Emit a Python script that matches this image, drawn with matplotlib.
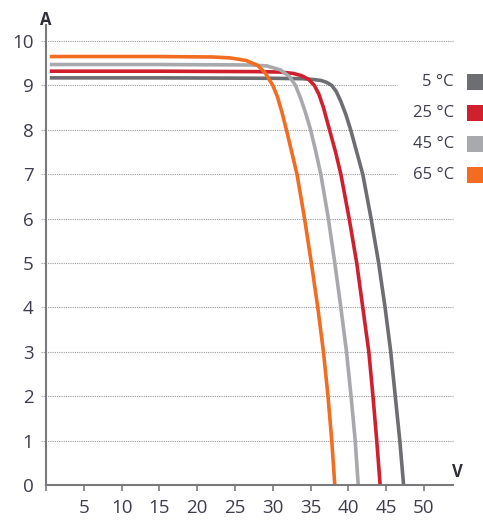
import matplotlib
matplotlib.use("Agg")
import matplotlib.pyplot as plt
from matplotlib.patches import Rectangle

plt.rcParams['font.family'] = ['Open Sans', 'DejaVu Sans']

# ---- data ----
labels = ["5 °C", "25 °C", "45 °C", "65 °C"]
colors = ["#6d6e71", "#d0202e", "#a7a9ac", "#f26c22"]

v_5 = [0.5, 15, 30, 34, 35.5, 36.4, 37.1, 37.8, 38.4, 39.0, 39.65, 40.3, 41.1, 41.9, 43.0, 44.0, 44.85, 45.6, 46.2, 46.8, 47.3]
i_5 = [9.17, 9.17, 9.16, 9.15, 9.13, 9.11, 9.07, 9.00, 8.86, 8.64, 8.35, 8.00, 7.50, 7.00, 6.00, 5.00, 4.00, 3.00, 2.00, 1.00, 0.00]

v_25 = [0.5, 15, 28, 31.0, 32.7, 33.8, 34.7, 35.5, 36.1, 36.7, 37.5, 38.3, 39.0, 40.1, 41.1, 41.9, 42.7, 43.25, 43.75, 44.2]
i_25 = [9.32, 9.32, 9.31, 9.30, 9.27, 9.22, 9.14, 9.00, 8.80, 8.50, 8.00, 7.50, 7.00, 6.00, 5.00, 4.00, 3.00, 2.00, 1.00, 0.00]

v_45 = [0.5, 15, 27, 29.2, 31.0, 32.2, 33.0, 33.7, 34.3, 35.0, 35.7, 36.35, 37.35, 38.2, 39.0, 39.75, 40.35, 40.9, 41.3]
i_45 = [9.47, 9.47, 9.46, 9.44, 9.35, 9.20, 9.00, 8.70, 8.40, 8.00, 7.50, 7.00, 6.00, 5.00, 4.00, 3.00, 2.00, 1.00, 0.00]

v_65 = [0.5, 15, 22, 24.3, 26.5, 28.0, 29.0, 30.0, 30.6, 31.2, 31.8, 32.5, 33.2, 34.2, 35.1, 35.95, 36.7, 37.3, 37.8, 38.2]
i_65 = [9.65, 9.65, 9.64, 9.62, 9.56, 9.45, 9.28, 9.00, 8.75, 8.40, 8.00, 7.50, 7.00, 6.00, 5.00, 4.00, 3.00, 2.00, 1.00, 0.00]

x_ticks = [5, 10, 15, 20, 25, 30, 35, 40, 45, 50]
y_ticks = [0, 1, 2, 3, 4, 5, 6, 7, 8, 9, 10]
short_grid = [7, 8, 9]

W, H = 483, 523
fig = plt.figure(figsize=(W / 100, H / 100), dpi=100)
ax_l, ax_r, ax_b, ax_t = 46, 453, 485, 25
ax = fig.add_axes([ax_l / W, 1 - ax_b / H, (ax_r - ax_l) / W, (ax_b - ax_t) / H])
XMAX = (ax_r - ax_l) / 7.56
YMAX = (ax_b - ax_t) / 44.4
ax.set_xlim(0, XMAX)
ax.set_ylim(0, YMAX)

txt = "#3d3d4d"
axis_c = "#7a7a7c"

# gridlines
for y in y_ticks[1:]:
    xe = 46.4 if y in short_grid else XMAX
    ax.plot([-0.7, xe], [y, y], linestyle=(0, (1, 1)), color="#9a9a9a",
            linewidth=0.8, clip_on=False, zorder=1)

series = [(v_5, i_5), (v_25, i_25), (v_45, i_45), (v_65, i_65)]
for (v, i), c in zip(series, colors):
    ax.plot(v, i, color=c, linewidth=2.6, solid_capstyle="butt",
            solid_joinstyle="round", zorder=3)

for s in ["top", "right"]:
    ax.spines[s].set_visible(False)
for s in ["left", "bottom"]:
    ax.spines[s].set_color(axis_c)
    ax.spines[s].set_linewidth(1.5)
    ax.spines[s].set_zorder(4)

ax.set_xticks([0] + x_ticks)
ax.set_xticklabels([""] + [str(t) for t in x_ticks])
ax.tick_params(axis="x", direction="out", length=4, width=1.2, color=axis_c,
               labelsize=13.5, labelcolor=txt, pad=6)
ax.set_yticks(y_ticks)
ax.set_yticklabels([str(t) for t in y_ticks])
ax.tick_params(axis="y", length=0, labelsize=13.5, labelcolor=txt, pad=9)

ax.text(0, YMAX - 0.08, "A", ha="center", va="bottom", fontsize=12,
        fontweight="bold", color="#2e2e36", clip_on=False)
ax.text(XMAX + 0.6, 0.08, "V", ha="center", va="bottom", fontsize=12,
        fontweight="bold", color="#2e2e36", clip_on=False)

# legend
leg_y = [82, 113, 144, 175]
for lab, c, y in zip(labels, colors, leg_y):
    fig.text(454 / W, 1 - y / H, lab, ha="right", va="center", fontsize=12,
             color=txt)
    fig.add_artist(Rectangle((467 / W, 1 - (y + 8) / H), 16 / W, 16 / H,
                             transform=fig.transFigure, color=c, linewidth=0))

fig.savefig("out.png", dpi=100)
